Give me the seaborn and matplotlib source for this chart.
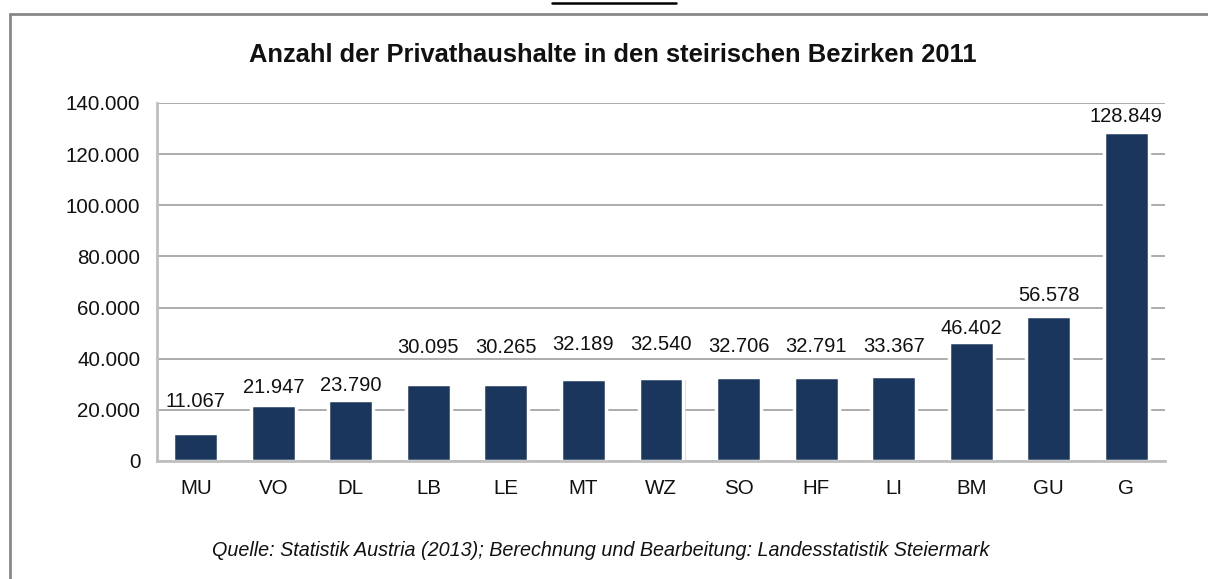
import matplotlib.pyplot as plt
import matplotlib.patheffects as pe
from matplotlib.lines import Line2D
from matplotlib.ticker import FuncFormatter
import seaborn as sns
import pandas as pd

# Data
bezirke = ["MU", "VO", "DL", "LB", "LE", "MT", "WZ", "SO", "HF", "LI", "BM", "GU", "G"]
haushalte = [11067, 21947, 23790, 30095, 30265, 32189, 32540, 32706, 32791, 33367, 46402, 56578, 128849]

title = "Anzahl der Privathaushalte in den steirischen Bezirken 2011"
quelle = "Quelle: Statistik Austria (2013); Berechnung und Bearbeitung: Landesstatistik Steiermark"

# label gap above each bar (px), as placed in the original chart
label_gap_px = [26, 12, 9, 31, 31, 29, 28, 25, 25, 24, 8, 15, 10]

df = pd.DataFrame({"bezirk": bezirke, "haushalte": haushalte})

sns.set_theme(style="white")
plt.rcParams["font.family"] = ["Liberation Sans", "DejaVu Sans"]

W, H = 1208, 579
fig = plt.figure(figsize=(W / 100, H / 100), dpi=100)
ax = fig.add_axes([157 / W, 1 - 461 / H, (1165 - 157) / W, (461 - 103) / H])

bar_color = "#1A365C"
sns.barplot(data=df, x="bezirk", y="haushalte", color=bar_color, width=0.58,
            edgecolor="white", linewidth=2.5, saturation=1, ax=ax)
for p in ax.patches:
    p.set_path_effects([pe.SimplePatchShadow(offset=(1.5, -1.5), shadow_rgbFace="#BBBBBB", alpha=0.6),
                        pe.Normal()])

def de_fmt(v, pos=None):
    return f"{v:,.0f}".replace(",", ".")

# value labels
for p, v, gap in zip(ax.patches, haushalte, label_gap_px):
    ax.annotate(de_fmt(v), (p.get_x() + p.get_width() / 2, p.get_height()),
                xytext=(0, gap * 0.72), textcoords="offset points", ha="center", va="baseline",
                fontsize=14.5, color="#111111")

ax.set_ylim(0, 140000)
ax.set_xlim(-0.5, len(bezirke) - 0.5)
ax.set_yticks(range(0, 140001, 20000))
ax.yaxis.set_major_formatter(FuncFormatter(de_fmt))
ax.yaxis.grid(True, color="#A6A6A6", linewidth=1.3)
ax.set_axisbelow(True)
ax.tick_params(axis="y", length=0, pad=12, labelsize=14.8, labelcolor="#111111")
ax.tick_params(axis="x", length=0, pad=13, labelsize=14.8, labelcolor="#111111")
ax.set_xlabel("")
ax.set_ylabel("")
for s in ["top", "right"]:
    ax.spines[s].set_visible(False)
for s in ["left", "bottom"]:
    ax.spines[s].set_color("#BFBFBF")
    ax.spines[s].set_linewidth(2)

fig.text(613 / W, 1 - 55 / H, title, ha="center", va="center", fontsize=18.4,
         fontweight="bold", color="#111111")
fig.text(601 / W, 1 - 551 / H, quelle, ha="center", va="center", fontsize=14.2,
         style="italic", color="#111111")

# outer frame and top mark
fig.add_artist(Line2D([10 / W, 1208 / W], [1 - 14 / H, 1 - 14 / H], transform=fig.transFigure,
                      color="#888888", linewidth=2))
fig.add_artist(Line2D([10 / W, 10 / W], [1 - 14 / H, 0], transform=fig.transFigure,
                      color="#888888", linewidth=2))
fig.add_artist(Line2D([552 / W, 676 / W], [1 - 2.5 / H, 1 - 2.5 / H], transform=fig.transFigure,
                      color="black", linewidth=1.8))

fig.savefig("out.png", dpi=100)
